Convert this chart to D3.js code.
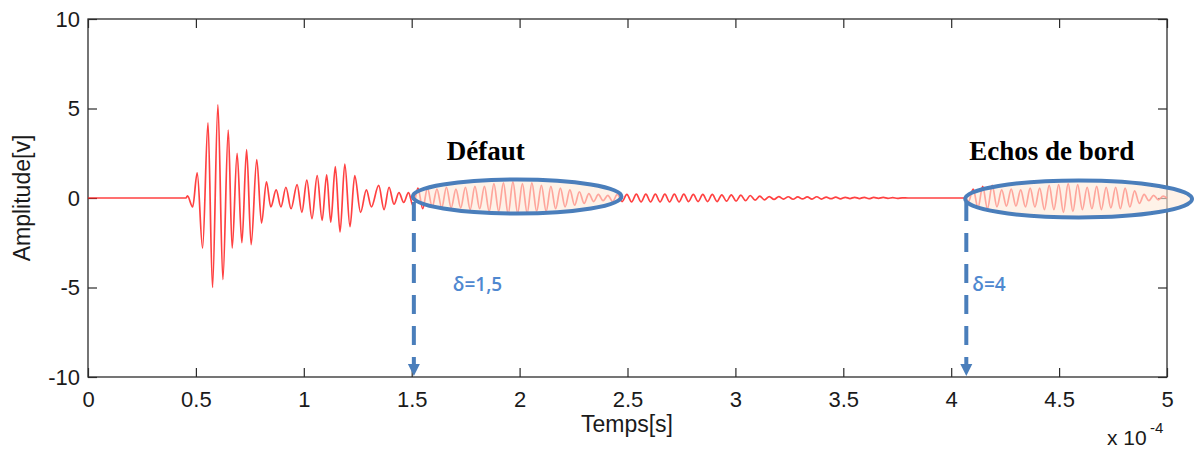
<!DOCTYPE html>
<html>
<head>
<meta charset="utf-8">
<script src="https://cdnjs.cloudflare.com/ajax/libs/d3/7.8.5/d3.min.js"></script>
<style>
	body { margin: 0; background: #fff; }
</style>
</head>
<body>
<svg id="chart" width="1196" height="449" font-family="'Liberation Sans', Arial, sans-serif" fill="#1a1a1a"></svg>
<script>
	//axis ticks (time in units of 1e-4 s, amplitude in V)
var xTicks = [0, 0.5, 1, 1.5, 2, 2.5, 3, 3.5, 4, 4.5, 5];
var xTickLabels = ["0", "0.5", "1", "1.5", "2", "2.5", "3", "3.5", "4", "4.5", "5"];
var yTicks = [-10, -5, 0, 5, 10];
var yTickLabels = ["-10", "-5", "0", "5", "10"];

	//signal extrema: [time, amplitude]
var burst = [[0, 0], [0.454, 0], [0.461, 0.12], [0.485, -0.5], [0.506, 1.4], [0.531, -2.8], [0.556, 4.2],
	[0.577, -5.0], [0.602, 5.2], [0.625, -4.55], [0.650, 3.8], [0.668, -2.8], [0.691, 2.5], [0.713, -2.5],
	[0.735, 2.7], [0.756, -2.6], [0.782, 2.15], [0.804, -1.4], [0.827, 0.9], [0.847, -0.5], [0.872, 0.45],
	[0.894, -0.5], [0.917, 0.6], [0.941, -0.6], [0.969, 0.75], [0.991, -0.8], [1.014, 1.0], [1.038, -1.15],
	[1.062, 1.25], [1.085, -1.25], [1.106, 1.3], [1.125, -1.35], [1.146, 1.75], [1.168, -1.9], [1.190, 1.9],
	[1.214, -1.6], [1.236, 1.25], [1.263, -0.8], [1.290, 0.45], [1.313, -0.5], [1.347, 0.7], [1.372, -0.65],
	[1.395, 0.6], [1.418, -0.35], [1.441, 0.3], [1.463, -0.25], [1.485, 0.3]];

var defect = [[1.507, -0.45], [1.529, 0.55], [1.551, -0.6], [1.573, 0.55], [1.595, -0.5], [1.617, 0.5],
	[1.639, -0.55], [1.661, 0.6], [1.683, -0.55], [1.705, 0.5], [1.727, -0.55], [1.749, 0.6], [1.771, -0.65],
	[1.793, 0.65], [1.815, -0.6], [1.837, 0.65], [1.859, -0.75], [1.881, 0.8], [1.903, -0.75], [1.925, 0.85],
	[1.947, -0.9], [1.969, 0.9], [1.991, -0.85], [2.013, 0.8], [2.035, -0.85], [2.057, 0.85], [2.079, -0.75],
	[2.101, 0.7], [2.123, -0.75], [2.145, 0.65], [2.167, -0.6], [2.189, 0.55], [2.211, -0.5], [2.233, 0.45],
	[2.255, -0.4], [2.277, 0.35], [2.299, -0.3], [2.321, 0.25], [2.343, -0.2], [2.365, 0.2], [2.387, -0.15],
	[2.409, 0.15], [2.431, -0.2], [2.453, 0.2], [2.475, -0.2]];

var tail = [[2.497, 0.2], [2.519, -0.22], [2.541, 0.22], [2.563, -0.22], [2.585, 0.22], [2.607, -0.22],
	[2.629, 0.22], [2.651, -0.22], [2.673, 0.22], [2.695, -0.22], [2.717, 0.22], [2.739, -0.22], [2.761, 0.22],
	[2.783, -0.2], [2.805, 0.2], [2.827, -0.2], [2.849, 0.2], [2.871, -0.2], [2.893, 0.2], [2.915, -0.2],
	[2.937, 0.18], [2.959, -0.18], [2.981, 0.18], [3.003, -0.17], [3.025, 0.16], [3.047, -0.15], [3.069, 0.14],
	[3.091, -0.12], [3.113, 0.1], [3.135, -0.1], [3.157, 0.08], [3.179, -0.08], [3.201, 0.08], [3.223, -0.06],
	[3.245, 0.07], [3.267, -0.07], [3.289, 0.06], [3.311, -0.05], [3.333, 0.06], [3.355, -0.06], [3.377, 0.07],
	[3.399, -0.06], [3.421, 0.05], [3.443, -0.04], [3.465, 0.05], [3.487, -0.05], [3.509, 0.04], [3.531, -0.03],
	[3.553, 0.04], [3.575, -0.03], [3.597, 0.04], [3.619, -0.04], [3.641, 0.03], [3.663, -0.02], [3.685, 0.03],
	[3.707, -0.02], [3.729, 0.02], [3.751, -0.02], [3.773, 0.01], [3.8, 0], [4.065, 0]];

var echo = [[4.080, -0.2], [4.102, 0.5], [4.124, -0.55], [4.146, 0.65], [4.168, -0.6], [4.190, 0.7],
	[4.212, -0.5], [4.234, 0.45], [4.256, -0.45], [4.278, 0.5], [4.300, -0.45], [4.322, 0.45], [4.344, -0.5],
	[4.366, 0.55], [4.388, -0.5], [4.410, 0.55], [4.432, -0.65], [4.454, 0.7], [4.476, -0.65], [4.498, 0.75],
	[4.520, -0.8], [4.542, 0.8], [4.564, -0.75], [4.586, 0.75], [4.608, -0.65], [4.630, 0.6], [4.652, -0.6],
	[4.674, 0.65], [4.696, -0.65], [4.718, 0.6], [4.740, -0.55], [4.762, 0.6], [4.784, -0.6], [4.806, 0.55],
	[4.828, -0.5], [4.850, 0.4], [4.872, -0.3], [4.894, 0.2], [4.916, -0.15], [4.938, 0.15], [4.960, -0.1],
	[4.982, 0.1], [5.0, 0]];

	//annotated zones and arrival times
var zoneNames = ["Défaut", "Echos de bord"];
var zoneStart = [1.505, 4.065];
var zoneEnd = [2.472, 5.116];
var arrivalTimes = [1.51, 4.07];
var arrivalLabels = ["δ=1,5", "δ=4"];

var svg = d3.select("#chart");
var plotLeft = 88, plotRight = 1167, plotTop = 19, plotBottom = 377;

var x = d3.scaleLinear().domain([0, 5]).range([plotLeft, plotRight]);
var y = d3.scaleLinear().domain([-10, 10]).range([plotBottom, plotTop]);

	//ticks inside the box, like matlab
svg.append("g")
	.attr("transform", "translate(0," + plotBottom + ")")
	.call(d3.axisBottom(x).tickValues(xTicks).tickSizeInner(-9).tickSizeOuter(0).tickPadding(14)
		.tickFormat(function(d, i) { return xTickLabels[i]; }));

svg.append("g")
	.attr("transform", "translate(" + plotLeft + ",0)")
	.call(d3.axisLeft(y).tickValues(yTicks).tickSizeInner(-9).tickSizeOuter(0).tickPadding(8)
		.tickFormat(function(d, i) { return yTickLabels[i]; }));

svg.append("g")
	.attr("transform", "translate(0," + plotTop + ")")
	.call(d3.axisTop(x).tickValues(xTicks).tickSizeInner(-9).tickSizeOuter(0).tickFormat(""));

svg.append("g")
	.attr("transform", "translate(" + plotRight + ",0)")
	.call(d3.axisRight(y).tickValues(yTicks).tickSizeInner(-9).tickSizeOuter(0).tickFormat(""));

svg.selectAll(".domain").remove();
svg.selectAll(".tick line").attr("stroke", "#2b2b2b").attr("stroke-width", 1.2);
svg.selectAll(".tick text").attr("font-size", 22).attr("fill", "#1a1a1a")
	.attr("font-family", "'Liberation Sans', Arial, sans-serif");

	//box
svg.append("rect")
	.attr("x", plotLeft).attr("y", plotTop)
	.attr("width", plotRight - plotLeft).attr("height", plotBottom - plotTop)
	.attr("fill", "none").attr("stroke", "#2b2b2b").attr("stroke-width", 1.3);

	//signal
var signal = burst.concat(defect, tail, echo);
var line = d3.line()
	.x(function(d) { return x(d[0]); })
	.y(function(d) { return y(d[1]); })
	.curve(d3.curveMonotoneX);

svg.append("path")
	.datum(signal)
	.attr("d", line)
	.attr("fill", "none")
	.attr("stroke", "#ff2020")
	.attr("stroke-width", 1.7)
	.attr("stroke-opacity", 0.85);

	//highlighted zones
var blue = "#4a7ebb";
zoneNames.forEach(function(name, i) {
	var cx = (x(zoneStart[i]) + x(zoneEnd[i])) / 2;
	var rx = (x(zoneEnd[i]) - x(zoneStart[i])) / 2;
	var ry = i == 0 ? 17 : 18.5;
	var cy = y(0) + (i == 0 ? -1.5 : 1);

	svg.append("ellipse")
		.attr("cx", cx).attr("cy", cy)
		.attr("rx", rx).attr("ry", ry)
		.attr("fill", "#fde9d9").attr("fill-opacity", 0.6)
		.attr("stroke", blue).attr("stroke-width", 4);

	svg.append("text")
		.attr("x", x(zoneStart[i]) + (i == 0 ? 34 : 4))
		.attr("y", 160)
		.attr("font-family", "'Liberation Serif', 'Times New Roman', serif")
		.attr("font-weight", "bold")
		.attr("font-size", 27)
		.attr("fill", "#000")
		.text(name);
});

	//dashed arrows down to the time axis
arrivalTimes.forEach(function(t, i) {
	var ax = x(t);

	svg.append("line")
		.attr("x1", ax).attr("x2", ax)
		.attr("y1", y(0) + 4).attr("y2", plotBottom - 12)
		.attr("stroke", blue).attr("stroke-width", 4)
		.attr("stroke-dasharray", "19,12");

	svg.append("path")
		.attr("d", "M" + (ax - 6) + "," + (plotBottom - 13) + "L" + (ax + 6) + "," + (plotBottom - 13) + "L" + ax + "," + (plotBottom - 1) + "Z")
		.attr("fill", blue);

	svg.append("text")
		.attr("x", ax + (i == 0 ? 39 : 6))
		.attr("y", 291)
		.attr("font-family", "'Open Sans', 'Noto Sans', sans-serif")
		.attr("font-weight", 600)
		.attr("font-size", 19)
		.attr("fill", "#4f88d0")
		.text(arrivalLabels[i]);
});

	//axis titles
svg.append("text")
	.attr("x", 627).attr("y", 432)
	.attr("text-anchor", "middle")
	.attr("font-size", 23)
	.text("Temps[s]");

svg.append("text")
	.attr("transform", "translate(30,198) rotate(-90)")
	.attr("text-anchor", "middle")
	.attr("font-size", 23)
	.text("Amplitude[v]");

svg.append("text")
	.attr("x", 1107).attr("y", 445)
	.attr("font-size", 21)
	.text("x 10");

svg.append("text")
	.attr("x", 1150).attr("y", 433)
	.attr("font-size", 15)
	.text("-4");
</script>
</body>
</html>
